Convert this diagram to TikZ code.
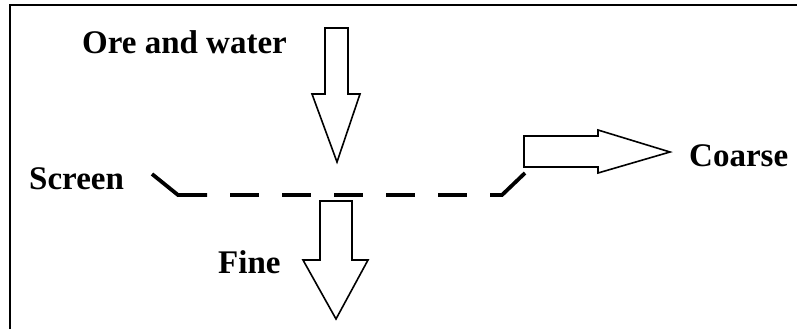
\documentclass[tikz,border=0pt]{standalone}
\usepackage{fontspec}
\setmainfont{Liberation Serif}
\tikzset{
  lbl/.style={anchor=base west, inner sep=0pt, font=\fontsize{33}{40}\selectfont\bfseries},
  blockarrow/.style={draw=black, fill=white, line width=1.6pt, line join=miter},
  screenline/.style={line width=3.8pt, line cap=butt, line join=miter},
  frameline/.style={line width=2pt}
}
\begin{document}
\begin{tikzpicture}[x=1pt, y=-1pt]
\useasboundingbox (0,0) rectangle (797,329);
% frame
\draw[frameline] (10,329) -- (10,5) -- (797,5);
% labels
\node[lbl] (ore) at (82,54) {Ore and water};
\node[lbl] (screen) at (29,189) {Screen};
\node[lbl] (fine) at (218,273) {Fine};
\node[lbl] (coarse) at (689,166) {Coarse};
% feed arrow
\draw[blockarrow] (325,28) -- (348,28) -- (348,94) -- (360,94) -- (337,162) -- (312,94) -- (325,94) -- cycle;
% fine arrow
\draw[blockarrow] (320,201) -- (352,201) -- (352,260) -- (368,260) -- (336,319) -- (303,260) -- (320,260) -- cycle;
% coarse arrow
\draw[blockarrow] (524,136) -- (598,136) -- (598,130) -- (670,152) -- (598,173) -- (598,167) -- (524,167) -- cycle;
% screen
\coordinate (s1) at (152,174);
\coordinate (s2) at (178,195);
\coordinate (s3) at (207,195);
\coordinate (d1) at (230,195);
\coordinate (d2) at (467,195);
\coordinate (s4) at (490,195);
\coordinate (s5) at (502,195);
\coordinate (s6) at (525,173);
\draw[screenline] (s1) -- (s2) -- (s3);
\draw[screenline, dash pattern=on 29pt off 23pt] (d1) -- (d2);
\draw[screenline] (s4) -- (s5) -- (s6);
\end{tikzpicture}
\end{document}
